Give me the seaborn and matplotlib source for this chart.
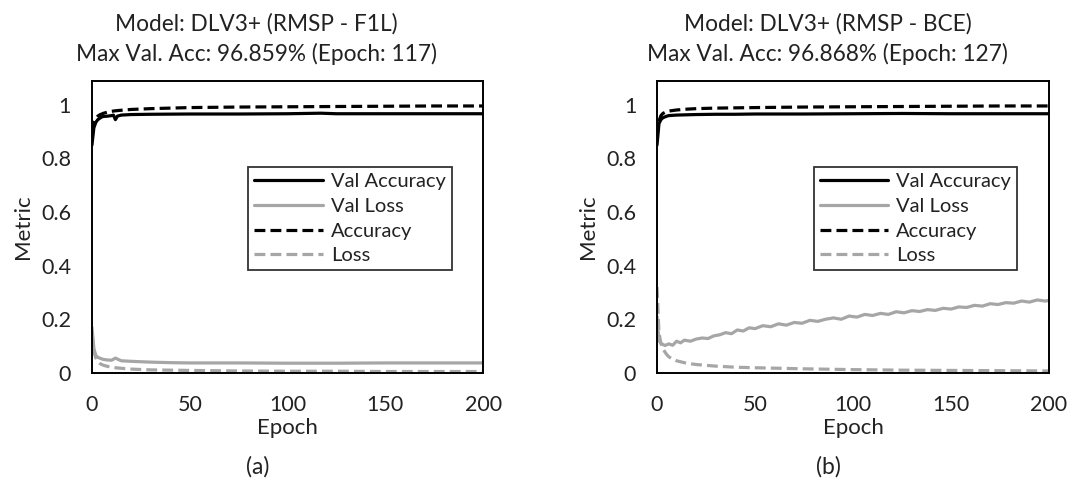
import numpy as np
import pandas as pd
import seaborn as sns
import matplotlib.pyplot as plt

# ---- values (epoch, metric) ----
# panel (a): RMSP - F1L
a_ep_acc = [0, 1, 2, 3, 4, 5, 6, 8, 10, 12, 15, 20, 30, 40, 50, 75, 100, 125, 150, 175, 200]
a_acc = [0.900, 0.935, 0.950, 0.958, 0.963, 0.966, 0.969, 0.973, 0.976, 0.978, 0.980, 0.983,
         0.986, 0.988, 0.990, 0.992, 0.993, 0.994, 0.995, 0.996, 0.996]
a_ep_val = [0, 1, 2, 3, 4, 5, 6, 8, 10, 11, 12, 13, 15, 20, 30, 50, 75, 100, 117, 125, 150, 175, 200]
a_val_acc = [0.850, 0.915, 0.935, 0.945, 0.950, 0.955, 0.957, 0.958, 0.960, 0.962, 0.945, 0.958,
             0.962, 0.964, 0.965, 0.966, 0.966, 0.967, 0.969, 0.967, 0.967, 0.967, 0.967]
a_ep_loss = [0, 1, 2, 3, 4, 5, 6, 8, 10, 12, 15, 20, 30, 40, 50, 75, 100, 125, 150, 175, 200]
a_loss = [0.150, 0.080, 0.055, 0.042, 0.035, 0.031, 0.028, 0.024, 0.021, 0.019, 0.017, 0.014,
          0.011, 0.010, 0.009, 0.007, 0.006, 0.006, 0.005, 0.005, 0.005]
a_val_loss = [0.170, 0.090, 0.065, 0.058, 0.055, 0.052, 0.050, 0.048, 0.047, 0.055, 0.045, 0.043,
              0.040, 0.038, 0.037, 0.037, 0.036, 0.036, 0.037, 0.037, 0.037]

# panel (b): RMSP - BCE
b_ep_acc = [0, 1, 2, 3, 4, 5, 6, 8, 10, 15, 20, 30, 40, 50, 75, 100, 125, 150, 175, 200]
b_acc = [0.880, 0.940, 0.960, 0.968, 0.972, 0.975, 0.977, 0.979, 0.981, 0.984, 0.986, 0.988,
         0.989, 0.990, 0.992, 0.993, 0.994, 0.995, 0.996, 0.996]
b_val_acc = [0.850, 0.930, 0.945, 0.952, 0.955, 0.958, 0.960, 0.961, 0.962, 0.963, 0.964, 0.965,
             0.965, 0.966, 0.966, 0.967, 0.968, 0.967, 0.967, 0.967]
b_loss = [0.320, 0.150, 0.110, 0.090, 0.078, 0.068, 0.060, 0.051, 0.045, 0.036, 0.031, 0.025,
          0.021, 0.019, 0.015, 0.012, 0.010, 0.009, 0.008, 0.007]
b_ep_val_loss = [0, 1, 2, 4, 6, 8, 10, 12, 14, 17, 20, 23, 26, 29, 32, 35, 38, 41, 44, 47, 50,
                 54, 58, 62, 66, 70, 74, 78, 82, 86, 90, 94, 98, 102, 106, 110, 114, 118, 122,
                 126, 130, 134, 138, 142, 146, 150, 154, 158, 162, 166, 170, 174, 178, 182,
                 186, 190, 194, 198, 200]
b_val_loss = [0.210, 0.120, 0.110, 0.102, 0.108, 0.103, 0.118, 0.112, 0.122, 0.118, 0.126,
              0.130, 0.128, 0.138, 0.142, 0.150, 0.146, 0.160, 0.156, 0.168, 0.165, 0.176,
              0.172, 0.183, 0.178, 0.188, 0.185, 0.196, 0.192, 0.200, 0.205, 0.200, 0.212,
              0.208, 0.218, 0.214, 0.222, 0.218, 0.228, 0.224, 0.232, 0.229, 0.236, 0.233,
              0.241, 0.238, 0.246, 0.244, 0.252, 0.249, 0.258, 0.255, 0.262, 0.260, 0.268,
              0.264, 0.272, 0.268, 0.270]

series = ["Val Accuracy", "Val Loss", "Accuracy", "Loss"]
colors = {"Val Accuracy": "black", "Val Loss": "#a6a6a6", "Accuracy": "black", "Loss": "#a6a6a6"}
dashes = {"Val Accuracy": "", "Val Loss": "", "Accuracy": (3.4, 1.6), "Loss": (3.4, 1.6)}

titles = ["Model: DLV3+ (RMSP - F1L)\nMax Val. Acc: 96.859% (Epoch: 117)",
          "Model: DLV3+ (RMSP - BCE)\nMax Val. Acc: 96.868% (Epoch: 127)"]
captions = ["(a)", "(b)"]


def long_form(parts):
    frames = []
    for name, ep, val in parts:
        frames.append(pd.DataFrame({"Epoch": ep, "Metric": val, "series": name}))
    return pd.concat(frames, ignore_index=True)


df_a = long_form([("Val Accuracy", a_ep_val, a_val_acc),
                  ("Val Loss", a_ep_loss, a_val_loss),
                  ("Accuracy", a_ep_acc, a_acc),
                  ("Loss", a_ep_loss, a_loss)])
df_b = long_form([("Val Accuracy", b_ep_acc, b_val_acc),
                  ("Val Loss", b_ep_val_loss, b_val_loss),
                  ("Accuracy", b_ep_acc, b_acc),
                  ("Loss", b_ep_acc, b_loss)])

sns.set_theme(style="white")
plt.rcParams["font.family"] = ["Lato", "DejaVu Sans"]

fig = plt.figure(figsize=(10.69, 4.78), dpi=100)
axes = [fig.add_axes([0.086, 0.220, 0.366, 0.611]),
        fig.add_axes([0.6146, 0.220, 0.3667, 0.611])]
title_x = [0.240, 0.774]
cap_x = [0.241, 0.775]

for ax, df, title, tx, cap, cx in zip(axes, [df_a, df_b], titles, title_x, captions, cap_x):
    sns.lineplot(data=df, x="Epoch", y="Metric", hue="series", style="series",
                 hue_order=series, style_order=series, palette=colors, dashes=dashes,
                 linewidth=2.3, ax=ax, estimator=None, sort=False)
    ax.set_xlim(0, 200)
    ax.set_ylim(0, 1.09)
    ax.set_xticks([0, 50, 100, 150, 200])
    ax.set_yticks([0, 0.2, 0.4, 0.6, 0.8, 1.0])
    ax.set_yticklabels(["0", "0.2", "0.4", "0.6", "0.8", "1"])
    ax.tick_params(length=0, labelsize=15.5, colors="#222222")
    ax.tick_params(axis="y", pad=15)
    ax.tick_params(axis="x", pad=16)
    ax.set_xlabel("Epoch", fontsize=16, labelpad=2, color="#222222")
    ax.set_ylabel("Metric", fontsize=16, labelpad=6, color="#222222")
    for s in ax.spines.values():
        s.set_visible(True)
        s.set_color("black")
        s.set_linewidth(1.4)
    leg = ax.legend(loc="upper left", bbox_to_anchor=(0.40, 0.705), fontsize=14.5,
                    frameon=True, fancybox=False, handlelength=3.4, handletextpad=0.4,
                    labelspacing=0.38, borderpad=0.3, borderaxespad=0)
    leg.get_frame().set_edgecolor("black")
    leg.get_frame().set_linewidth(1.3)
    for t in leg.get_texts():
        t.set_color("#222222")
    fig.text(tx, 0.918, title, ha="center", va="center", fontsize=16.3,
             linespacing=1.45, color="#222222")
    fig.text(cx, 0.0, cap, ha="center", va="bottom", fontsize=16.5, color="#222222")

fig.savefig("out.png", dpi=100)
